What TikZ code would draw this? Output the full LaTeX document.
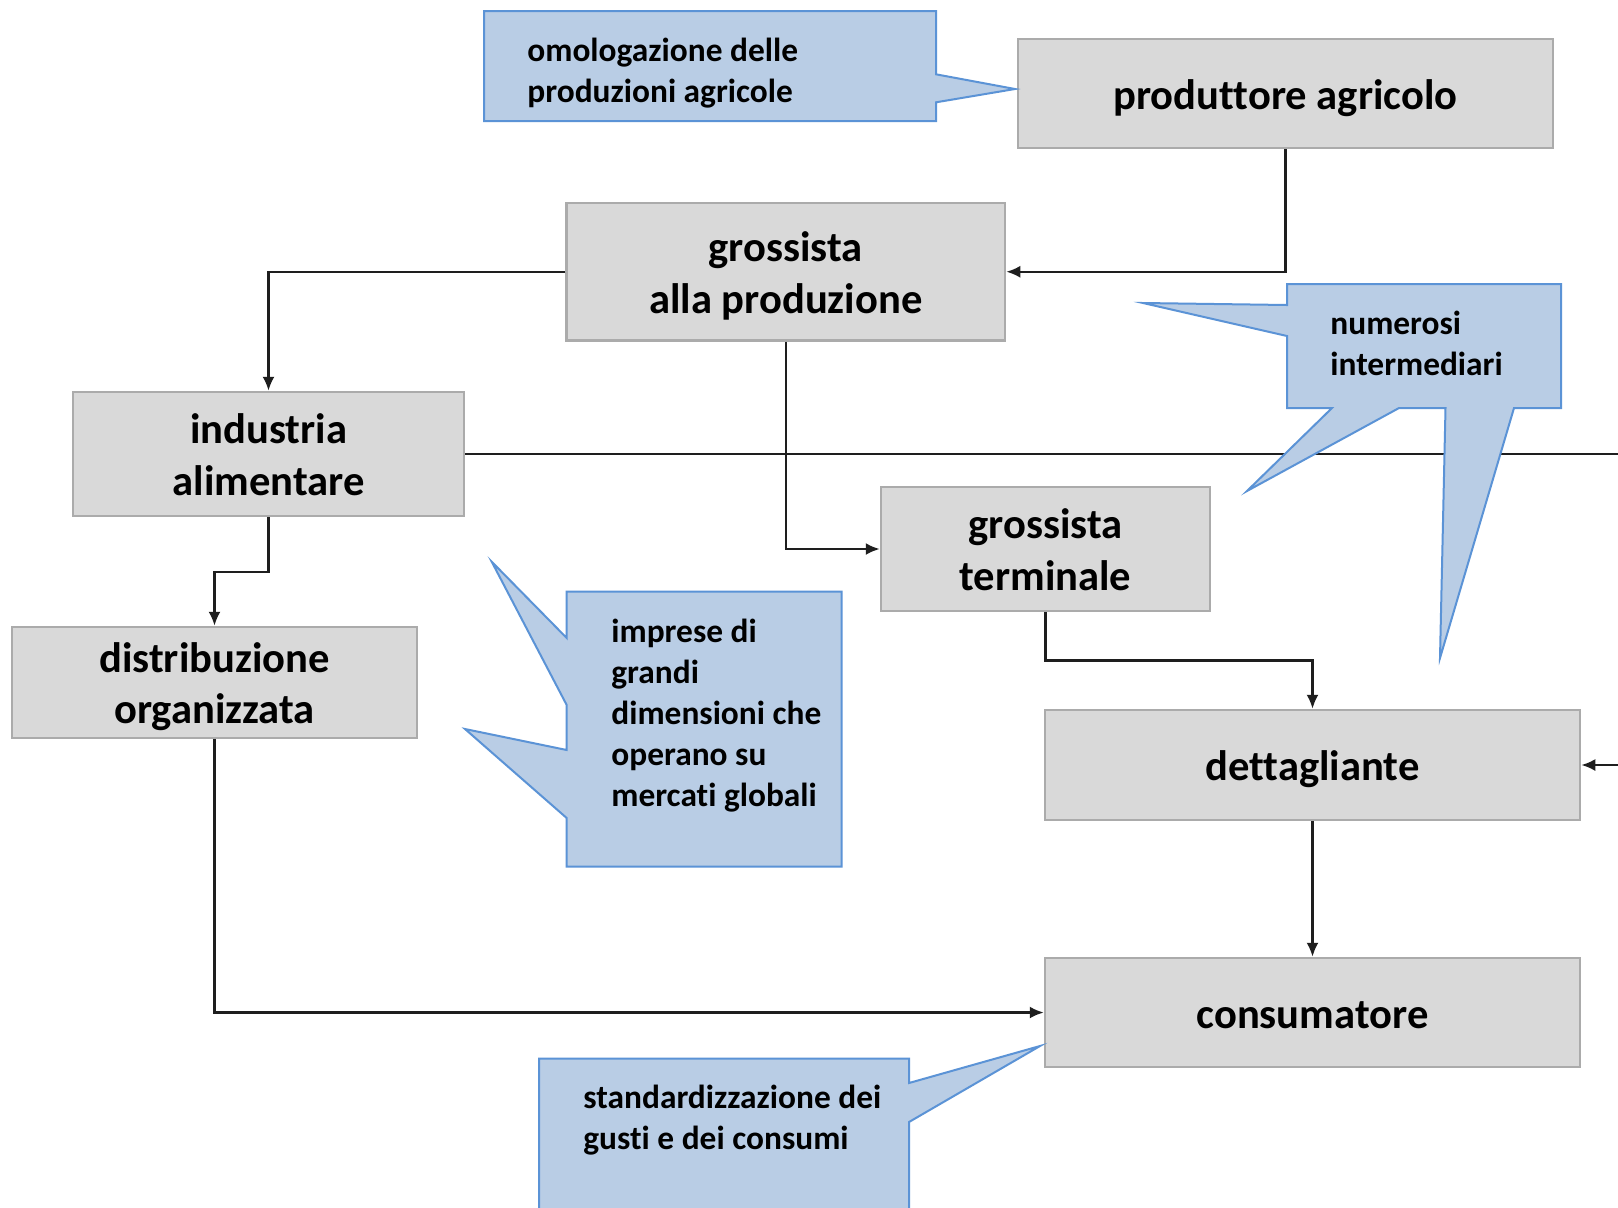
\documentclass[tikz,border=0pt]{standalone}
\usepackage{fontspec}
\setmainfont{Carlito}[Ligatures={NoCommon}]
\usetikzlibrary{arrows.meta}
\definecolor{boxfill}{HTML}{D9D9D9}
\definecolor{boxline}{HTML}{ABABAB}
\definecolor{callfill}{HTML}{B9CDE5}
\definecolor{callline}{HTML}{5B93D6}
\definecolor{linecol}{HTML}{1E1E1E}
\newcommand\bigtxt{\fontsize{21.3pt}{25.8pt}\selectfont\bfseries}
\newcommand\smalltxt{\fontsize{16.7pt}{20.5pt}\selectfont\bfseries}
\newcommand\gtext[1]{\raisebox{-2.6pt}[\height][\depth]{\begin{tabular}{@{}c@{}}#1\end{tabular}}}
\newcommand\ctxt[1]{\begin{tabular}[t]{@{}l@{}}#1\end{tabular}}
\begin{document}
\begin{tikzpicture}[x=0.5pt,y=-0.5pt,
  gbox/.style={draw=boxline, line width=1.25pt, fill=boxfill, inner sep=0pt, font=\bigtxt},
  callout/.style={draw=callline, line width=1pt, fill=callfill, line join=miter},
  ctext/.style={anchor=base west, inner sep=0pt, font=\smalltxt},
  arrowline/.style={draw=linecol, line width=1.15pt, -{Latex[length=7pt,width=6pt]}}]
\useasboundingbox (0,0) rectangle (1618,1207);
\begin{scope}
\clip (0,0) rectangle (1618,1207);
\fill[white] (0,0) rectangle (1618,1207);

% main boxes
\node[gbox, minimum width=267.5pt, minimum height=54.5pt] (prod) at (1285.5,93.5)
  {\gtext{produttore agricolo}};
\node[gbox, minimum width=219.25pt, minimum height=68.75pt] (gap) at (785.75,271.75)
  {\gtext{grossista\\alla produzione}};
\node[gbox, minimum width=195.5pt, minimum height=62pt] (ind) at (268.5,454)
  {\gtext{industria\\alimentare}};
\node[gbox, minimum width=202.5pt, minimum height=55.5pt] (dist) at (214.5,682.5)
  {\gtext{distribuzione\\organizzata}};
\node[gbox, minimum width=164.5pt, minimum height=62pt] (gt) at (1045.5,549)
  {\gtext{grossista\\terminale}};
\node[gbox, minimum width=267.5pt, minimum height=55pt] (det) at (1312.5,765)
  {\gtext{dettagliante}};
\node[gbox, minimum width=267.5pt, minimum height=54.5pt] (cons) at (1312.5,1012.5)
  {\gtext{consumatore}};

% helper coordinates
\coordinate (j1) at (0,571.7);
\coordinate (j2) at (0,660.5);
\coordinate (rightout) at (1700,600);

% connectors
\draw[arrowline] (prod.south) |- (gap.east);
\draw[arrowline] (gap.west) -| (ind.north);
\draw[arrowline] (gap.south) |- (gt.west);
\draw[arrowline] (ind.east) -| (rightout) |- (det.east);
\draw[arrowline] (ind.south) -- (ind.south |- j1) -| (dist.north);
\draw[arrowline] (gt.south) -- (gt.south |- j2) -| (det.north);
\draw[arrowline] (det.south) -- (cons.north);
\draw[arrowline] (dist.south) |- (cons.west);

% callouts
\draw[callout] (484,11) -- (936,11) -- (936,74.3) -- (1015,89) -- (936,102.3)
  -- (936,121) -- (484,121) -- cycle;
\node[ctext] (c1) at (527,61.5) {\ctxt{omologazione delle\\produzioni agricole}};

\draw[callout] (1287,284) -- (1561,284) -- (1561,408) -- (1514,408) -- (1440,658)
  -- (1445.5,408) -- (1399,408) -- (1247,491) -- (1332,408) -- (1287,408)
  -- (1287,336) -- (1143,303) -- (1287,305) -- cycle;
\node[ctext] (c2) at (1330,334.5) {\ctxt{numerosi\\intermediari}};

\draw[callout] (566.7,591.7) -- (841.7,591.7) -- (841.7,866.7) -- (566.7,866.7)
  -- (566.7,818) -- (465,729) -- (566.7,750) -- (566.7,705) -- (491.7,561.7)
  -- (566.7,638) -- cycle;
\node[ctext] (c3) at (611,642.5)
  {\ctxt{imprese di\\grandi\\dimensioni che\\operano su\\mercati globali}};

\draw[callout] (539,1058.6) -- (909,1058.6) -- (909,1083) -- (1040,1046) -- (909,1122)
  -- (909,1240) -- (539,1240) -- cycle;
\node[ctext] (c4) at (583,1108.5)
  {\ctxt{standardizzazione dei\\gusti e dei consumi}};
\end{scope}
\end{tikzpicture}
\end{document}
